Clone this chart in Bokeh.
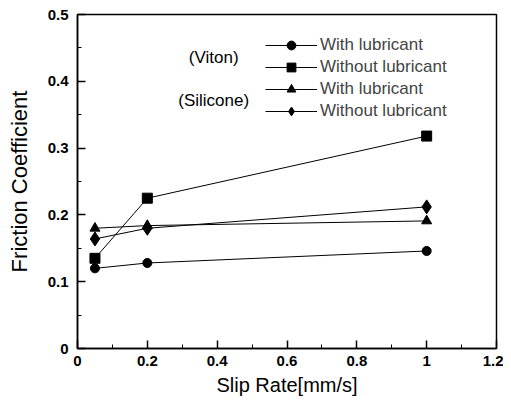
from bokeh.plotting import figure
from bokeh.models import Range1d, FixedTicker, Legend, LegendItem, Label
from bokeh.embed import file_html
from bokeh.resources import INLINE

slip = [0.05, 0.2, 1.0]
viton_with = [0.120, 0.128, 0.146]
viton_without = [0.135, 0.225, 0.318]
silicone_with = [0.180, 0.184, 0.191]
silicone_without = [0.164, 0.180, 0.212]
labels = ["With lubricant", "Without lubricant", "With lubricant", "Without lubricant"]
x_ticks = [0, 0.2, 0.4, 0.6, 0.8, 1.0, 1.2]
y_ticks = [0, 0.1, 0.2, 0.3, 0.4, 0.5]

FONT = "Liberation Sans"

p = figure(width=503, height=403, output_backend="svg", toolbar_location=None,
           x_range=Range1d(0, 1.2), y_range=Range1d(0, 0.5),
           min_border_left=77, min_border_right=7, min_border_top=14, min_border_bottom=55)
p.grid.visible = False
p.outline_line_color = "black"
p.outline_line_width = 1.5
p.background_fill_color = "white"
p.border_fill_color = "white"

for ax in (p.xaxis[0], p.yaxis[0]):
    ax.axis_line_width = 1.5
    ax.major_tick_in = 8
    ax.major_tick_out = 0
    ax.minor_tick_in = 4
    ax.minor_tick_out = 0
    ax.major_tick_line_width = 1.5
    ax.major_label_text_font = FONT
    ax.major_label_text_font_style = "bold"
    ax.major_label_text_font_size = "15px"
    ax.major_label_text_color = "black"
    ax.axis_label_text_font = FONT
    ax.axis_label_text_font_style = "normal"
    ax.axis_label_text_color = "black"

p.xaxis.ticker = FixedTicker(ticks=x_ticks, minor_ticks=[0.1, 0.3, 0.5, 0.7, 0.9, 1.1])
p.yaxis.ticker = FixedTicker(ticks=y_ticks, minor_ticks=[0.05, 0.15, 0.25, 0.35, 0.45])
p.xaxis.major_label_overrides = {0: "0", 1: "1"}
p.yaxis.major_label_overrides = {0: "0"}
p.xaxis.axis_label = "Slip Rate[mm/s]"
p.yaxis.axis_label = "Friction Coefficient"
p.xaxis.axis_label_text_font_size = "20px"
p.yaxis.axis_label_text_font_size = "22px"
p.xaxis.major_label_standoff = 7
p.yaxis.major_label_standoff = 9
p.xaxis.axis_label_standoff = 5
p.yaxis.axis_label_standoff = 13

series = [viton_with, viton_without, silicone_with, silicone_without]
markers = ["circle", "square", "triangle", "diamond"]
sizes = [9, 10, 10, 14]
items = []
for ys, m, s, lab in zip(series, markers, sizes, labels):
    r1 = p.line(slip, ys, line_color="black", line_width=1)
    r2 = p.scatter(slip, ys, marker=m, size=s, fill_color="black", line_color="black")
    items.append(LegendItem(label=lab, renderers=[r1, r2]))

legend = Legend(items=items, location=(188, 226), glyph_width=52, glyph_height=22,
                label_height=22, spacing=0, padding=0, margin=0, label_standoff=3,
                label_text_font=FONT, label_text_font_size="17px",
                background_fill_alpha=0, border_line_alpha=0)
p.add_layout(legend, "center")

p.add_layout(Label(x=0.39, y=0.436, text="(Viton)", text_align="center", text_baseline="middle",
                   text_font=FONT, text_font_size="17px", text_color="black"))
p.add_layout(Label(x=0.39, y=0.372, text="(Silicone)", text_align="center", text_baseline="middle",
                   text_font=FONT, text_font_size="17px", text_color="black"))

open("out.html", "w").write(file_html(p, INLINE))
